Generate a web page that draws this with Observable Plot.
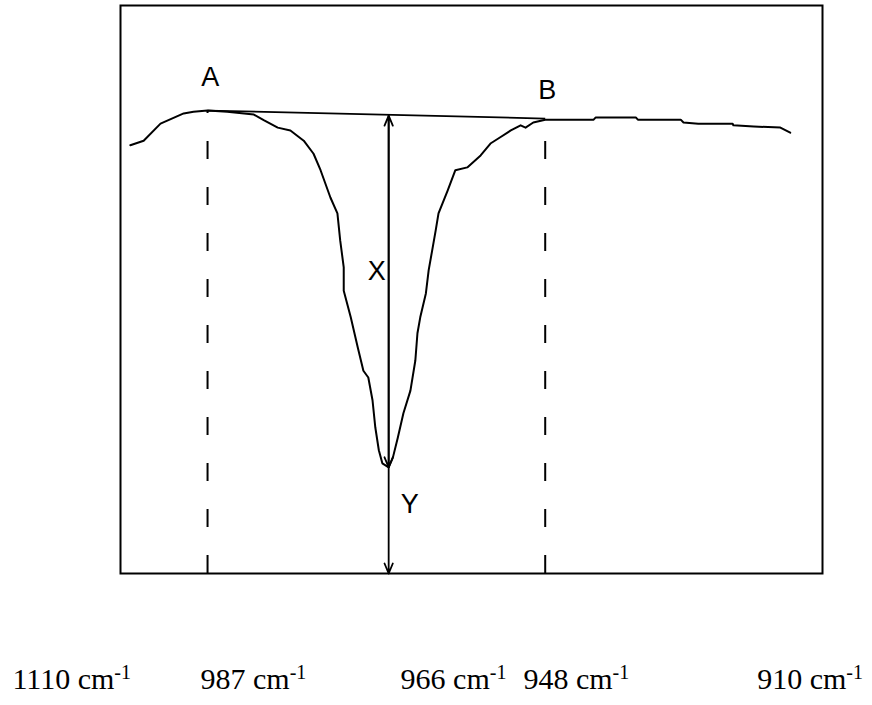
<!DOCTYPE html>
<html><head><meta charset="utf-8">
<script src="https://cdn.jsdelivr.net/npm/d3@7"></script>
<script src="https://cdn.jsdelivr.net/npm/@observablehq/plot@0.6"></script>
<style>html,body{margin:0;padding:0;background:#fff}#chart svg{display:block;overflow:visible}</style>
</head><body><div id="chart"></div>
<script>
// Spectrum trace (x: relative position across the frame 0–100, y: relative transmittance 0–100)
const curveX = [1.4,3.3,5.7,9.0,10.4,12.4,15.2,19.0,20.4,22.4,24.2,26.1,27.5,28.5,29.9,30.9,31.3,31.8,31.8,32.8,33.8,34.6,35.3,35.9,36.3,36.8,37.3,38.2,38.8,39.5,40.3,41.3,42.0,42.3,42.7,43.5,43.9,44.4,44.9,45.3,46.6,47.7,49.4,51.3,52.7,54.1,55.6,57.0,57.7,58.8,60.5,62.7,67.4,67.7,73.4,73.7,79.8,80.2,82.3,87.2,87.3,90.2,94.0,95.4];
const curveY = [75.4,76.2,79.2,81.0,81.3,81.5,81.3,80.8,79.8,78.5,78.0,76.2,73.9,71.0,66.2,63.4,58.6,53.9,49.8,45.1,39.8,35.7,34.5,30.5,25.7,21.7,19.4,18.7,20.4,23.9,28.2,32.2,37.5,42.3,45.1,49.3,53.4,56.9,60.4,63.4,67.4,71.0,71.5,73.6,75.7,76.8,78.0,78.9,78.5,79.4,79.9,79.9,79.9,80.3,80.3,79.9,79.9,79.4,79.2,79.2,78.9,78.7,78.5,77.6];

// Baseline points A and B
const markerNames = ["A", "B"];
const markerX = [12.4, 60.5];
const markerY = [81.5, 80.1];
const markerLabelX = [12.8, 60.8];
const markerLabelY = [87.3, 85.0];

// Peak and measurement segments
const peakX = 38.2;
const peakY = 18.7;
const baselineAtPeak = 80.6;
const segNames = ["X", "Y"];
const segLabelX = [36.5, 41.2];
const segLabelY = [53.2, 12.1];

// Wavenumber labels under the chart
const tickValues = ["1110", "987", "966", "948", "910"];
const tickUnit = "cm";
const tickExp = "-1";
const tickLabelX = [-15.4, 11.4, 39.9, 57.4, 90.7];
const tickLabelY = -20.4;

const curve = curveX.map((x, i) => ({x, y: curveY[i]}));
const markers = markerNames.map((n, i) => ({n, x: markerX[i], y: markerY[i], lx: markerLabelX[i], ly: markerLabelY[i]}));
const segLabels = segNames.map((n, i) => ({n, x: segLabelX[i], y: segLabelY[i]}));
const ticks = tickValues.map((v, i) => ({v, x: tickLabelX[i], y: tickLabelY}));
const arrows = [
  {x1: peakX, y1: peakY, x2: peakX, y2: baselineAtPeak},
  {x1: peakX, y1: baselineAtPeak, x2: peakX, y2: peakY},
  {x1: peakX, y1: peakY, x2: peakX, y2: 0}
];

const plot = Plot.plot({
  width: 872,
  height: 705,
  marginLeft: 120,
  marginRight: 50,
  marginTop: 5,
  marginBottom: 132,
  x: {domain: [0, 100], axis: null},
  y: {domain: [0, 100], axis: null},
  style: {background: "transparent"},
  marks: [
    Plot.ruleX(markers, {x: "x", y1: 0, y2: "y", stroke: "black", strokeWidth: 2, strokeDasharray: "18,28"}),
    Plot.link([{x1: markerX[0], y1: markerY[0], x2: markerX[1], y2: markerY[1]}], {x1: "x1", y1: "y1", x2: "x2", y2: "y2", stroke: "black", strokeWidth: 1.8}),
    Plot.arrow(arrows, {x1: "x1", y1: "y1", x2: "x2", y2: "y2", stroke: "black", strokeWidth: 1.8, headLength: 9, headAngle: 45}),
    Plot.line(curve, {x: "x", y: "y", stroke: "black", strokeWidth: 2, curve: "linear"}),
    Plot.frame({stroke: "black", strokeWidth: 2}),
    Plot.text(markers, {x: "lx", y: "ly", text: "n", fontSize: 27, fontFamily: "Liberation Sans, Arial, sans-serif", fill: "black"}),
    Plot.text(segLabels, {x: "x", y: "y", text: "n", fontSize: 27, fontFamily: "Liberation Sans, Arial, sans-serif", fill: "black"}),
    Plot.text(ticks, {x: "x", y: "y", text: d => d.v + " " + tickUnit, textAnchor: "start", lineAnchor: "bottom", fontSize: 30, fontFamily: "Liberation Serif, Times New Roman, serif", fill: "black", className: "wn"})
  ]
});
document.getElementById("chart").appendChild(plot);
// add superscript exponent to wavenumber labels
plot.querySelectorAll("g.wn text").forEach(t => {
  const ts = document.createElementNS("http://www.w3.org/2000/svg", "tspan");
  ts.setAttribute("dy", "-10");
  ts.setAttribute("font-size", "20");
  ts.textContent = tickExp;
  t.appendChild(ts);
});
</script>
</body></html>
